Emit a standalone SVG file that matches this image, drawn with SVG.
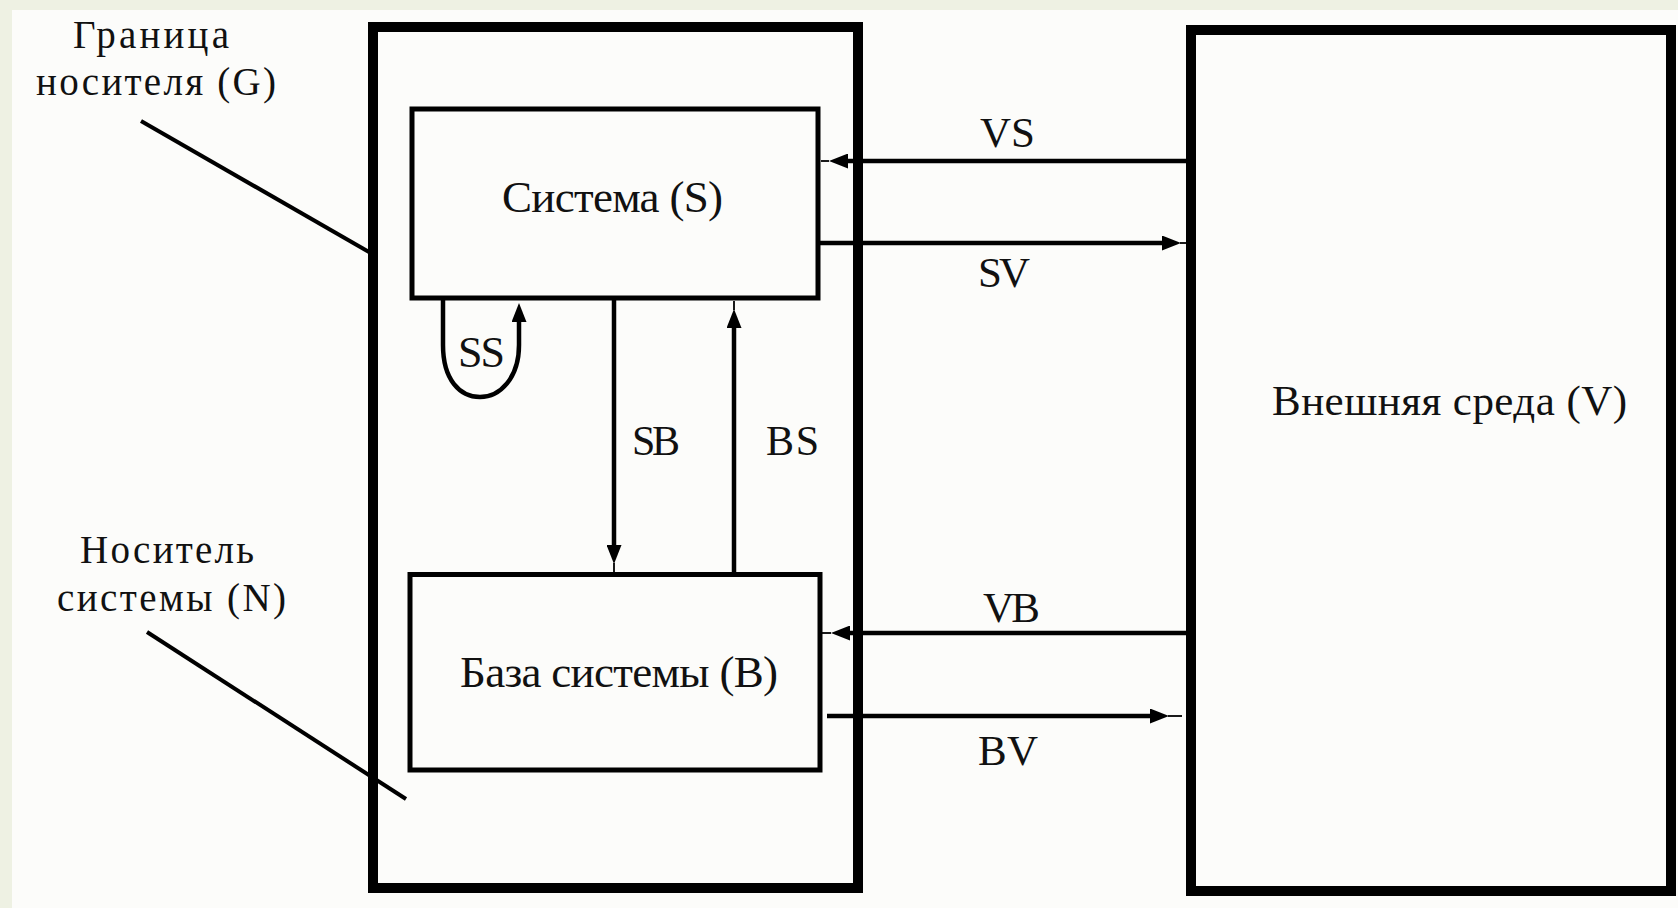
<svg xmlns="http://www.w3.org/2000/svg" width="1678" height="908" viewBox="0 0 1678 908">
<style>
.bg{fill:#eef1e3}
.paper{fill:#fcfcfa}
.outer{fill:none;stroke:#000;stroke-width:10}
.inner{fill:none;stroke:#000;stroke-width:5}
.conn{fill:none;stroke:#000;stroke-width:4.5}
.tail{fill:none;stroke:#000;stroke-width:1.8}
.lead{fill:none;stroke:#000;stroke-width:4}
text{font-family:"Liberation Serif","DejaVu Serif",serif;fill:#111}
.lbl{font-size:39px}
.big{font-size:45px}
.flow{font-size:43px}
</style>
<defs>
<marker id="arr" markerUnits="userSpaceOnUse" viewBox="0 0 19 15" refX="0" refY="7.5" markerWidth="19" markerHeight="15" orient="auto">
<path d="M0,0 L19,7.5 L0,15 z" fill="#000"/>
</marker>
</defs>
<rect class="bg" x="0" y="0" width="1678" height="908"/>
<rect class="paper" x="12" y="10" width="1666" height="898"/>

<g id="node-N">
<rect class="outer" x="373" y="27" width="485" height="861"/>
</g>
<g id="node-V">
<rect class="outer" x="1191" y="30" width="480" height="861"/>
<text x="1272" y="415" style="font-size:43px" textLength="355">Внешняя среда (V)</text>
</g>
<g id="node-S">
<rect class="inner" x="412" y="109" width="406" height="189"/>
<text class="big" x="502" y="212" textLength="221">Система (S)</text>
</g>
<g id="node-B">
<rect class="inner" x="410" y="574.5" width="410" height="195.5"/>
<text class="big" x="460" y="687" textLength="318">База системы (B)</text>
</g>
<g id="label-G">
<text class="lbl" x="73" y="48" textLength="156">Граница</text>
<text class="lbl" x="36" y="95" textLength="240">носителя (G)</text>
<line class="lead" x1="141" y1="121" x2="369" y2="252"/>
</g>
<g id="label-N">
<text class="lbl" x="80" y="563" textLength="174">Носитель</text>
<text class="lbl" x="57" y="611" textLength="229">системы (N)</text>
<line class="lead" x1="147" y1="632" x2="406" y2="799"/>
</g>

<g id="connectors">
<g id="edge-VS">
<path class="conn" d="M1186,161 L848,161" marker-end="url(#arr)"/>
<path class="tail" d="M829,161 L821,161"/>
<text class="flow" x="980" y="147" textLength="55">VS</text>
</g>
<g id="edge-SV">
<path class="conn" d="M820,243 L1162,243" marker-end="url(#arr)"/>
<path class="tail" d="M1180,243 L1186,243"/>
<text class="flow" x="978" y="287" textLength="52">SV</text>
</g>
<g id="edge-VB">
<path class="conn" d="M1186,633 L850,633" marker-end="url(#arr)"/>
<path class="tail" d="M831,633 L822,633"/>
<text class="flow" x="983" y="622" textLength="57">VB</text>
</g>
<g id="edge-BV">
<path class="conn" d="M827,716 L1150,716" marker-end="url(#arr)"/>
<path class="tail" d="M1168,716 L1182,716"/>
<text class="flow" x="978" y="765" textLength="60">BV</text>
</g>
<g id="edge-SB">
<path class="conn" d="M614,300 L614,545" marker-end="url(#arr)"/>
<path class="tail" d="M614,563 L614,572"/>
<text class="flow" x="632" y="455" style="font-size:42px" textLength="48">SB</text>
</g>
<g id="edge-BS">
<path class="conn" d="M734,572 L734,328" marker-end="url(#arr)"/>
<path class="tail" d="M734,310 L734,301"/>
<text class="flow" x="766" y="455" style="font-size:42px" textLength="53">BS</text>
</g>
<g id="edge-SS">
<path class="conn" d="M443,300 L443,345 C443,380 460,397 480,397 C500,397 519,378 519,345 L519,322" marker-end="url(#arr)"/>
<text class="flow" x="458" y="367" style="font-size:44px" textLength="47">SS</text>
</g>
</g>
</svg>
